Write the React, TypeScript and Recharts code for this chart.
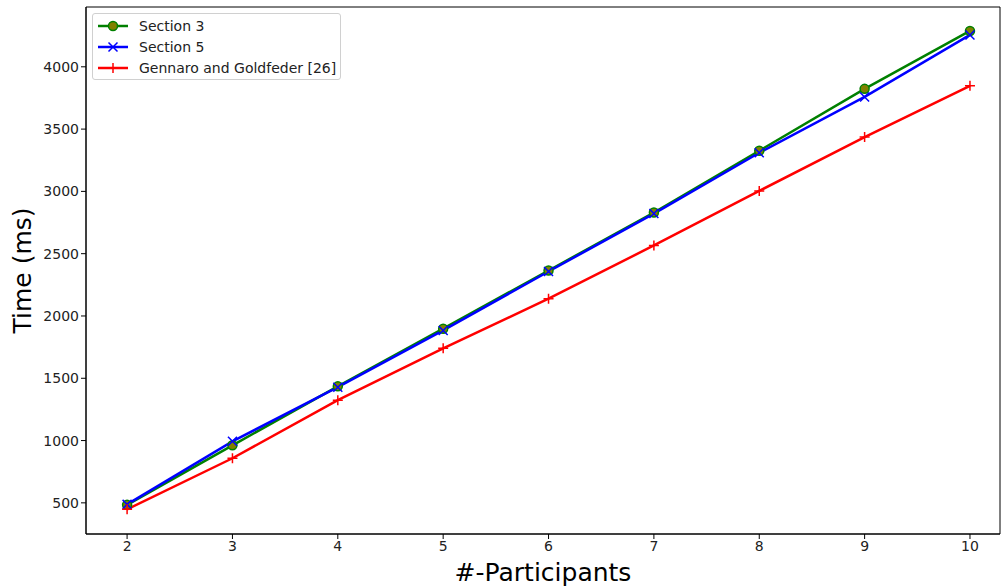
import React from 'react';
import {
  Line,
  LineChart,
  ReferenceArea,
  XAxis,
  YAxis,
} from 'recharts';

const participants = [2, 3, 4, 5, 6, 7, 8, 9, 10];
const section3 = [484, 962, 1435, 1898, 2365, 2830, 3326, 3823, 4288];
const section5 = [488, 994, 1428, 1884, 2357, 2822, 3310, 3758, 4256];
const gennaro = [448, 858, 1324, 1740, 2139, 2566, 3004, 3436, 3847];
const yTicks = [500, 1000, 1500, 2000, 2500, 3000, 3500, 4000];

const FONT = '"DejaVu Sans", sans-serif';
const X_DOMAIN: [number, number] = [1.61, 10.285];
const Y_DOMAIN: [number, number] = [250, 4480];

const data = participants.map((p, i) => ({
  p,
  s3: section3[i],
  s5: section5[i],
  gg: gennaro[i],
}));

function CircleDot(props: any) {
  const { cx, cy } = props;
  if (cx == null || cy == null) return null;
  return <circle cx={cx} cy={cy} r={4.5} fill="#808000" stroke="#008000" strokeWidth={1.5} />;
}

function CrossDot(props: any) {
  const { cx, cy } = props;
  if (cx == null || cy == null) return null;
  const s = 4.5;
  return (
    <path
      d={`M${cx - s},${cy - s}L${cx + s},${cy + s}M${cx - s},${cy + s}L${cx + s},${cy - s}`}
      stroke="#0000ff"
      strokeWidth={1.5}
    />
  );
}

function PlusDot(props: any) {
  const { cx, cy } = props;
  if (cx == null || cy == null) return null;
  const s = 5;
  return (
    <path
      d={`M${cx - s},${cy}L${cx + s},${cy}M${cx},${cy - s}L${cx},${cy + s}`}
      stroke="#ff0000"
      strokeWidth={1.5}
    />
  );
}

const legendItems = [
  { label: 'Section 3', color: '#008000', marker: 'circle' },
  { label: 'Section 5', color: '#0000ff', marker: 'x' },
  { label: 'Gennaro and Goldfeder [26]', color: '#ff0000', marker: 'plus' },
];

function LegendBox() {
  return (
    <div
      style={{
        position: 'absolute',
        left: 92,
        top: 13,
        border: '1px solid #d0d0d0',
        borderRadius: 3,
        background: 'rgba(255,255,255,0.8)',
        padding: '1px 4px 1px 4px',
        fontFamily: FONT,
        fontSize: 14,
        color: '#222',
      }}
    >
      {legendItems.map((it) => (
        <div key={it.label} style={{ display: 'flex', alignItems: 'center', height: 21 }}>
          <svg width={32} height={12} style={{ marginRight: 10 }}>
            <line x1={1} y1={6} x2={31} y2={6} stroke={it.color} strokeWidth={2.5} />
            {it.marker === 'circle' && (
              <circle cx={16} cy={6} r={4.5} fill="#808000" stroke="#008000" strokeWidth={1.5} />
            )}
            {it.marker === 'x' && (
              <path d="M11.5,1.5L20.5,10.5M11.5,10.5L20.5,1.5" stroke={it.color} strokeWidth={1.5} />
            )}
            {it.marker === 'plus' && (
              <path d="M11,6L21,6M16,1L16,11" stroke={it.color} strokeWidth={1.5} />
            )}
          </svg>
          <span>{it.label}</span>
        </div>
      ))}
    </div>
  );
}

export default function App() {
  const tickStyle = { fill: '#222', fontSize: 14, fontFamily: FONT };
  return (
    <div style={{ position: 'absolute', left: 0, top: 0, width: 1002, height: 586, background: '#fff' }}>
      <LineChart
        width={1002}
        height={586}
        data={data}
        margin={{ top: 7, right: 2, bottom: 0, left: 0 }}
      >
        <XAxis
          dataKey="p"
          type="number"
          domain={X_DOMAIN}
          ticks={participants}
          allowDataOverflow
          height={52}
          stroke="#000"
          tickLine={{ stroke: '#000' }}
          tickSize={5}
          tick={tickStyle}
          label={{
            value: '#-Participants',
            position: 'insideBottom',
            offset: 5,
            style: { fontSize: 25, fontFamily: FONT, fill: '#000' },
          }}
        />
        <YAxis
          type="number"
          domain={Y_DOMAIN}
          ticks={yTicks}
          allowDataOverflow
          width={86}
          stroke="#000"
          tickSize={5}
          tick={tickStyle}
          label={{
            value: 'Time (ms)',
            angle: -90,
            position: 'insideLeft',
            offset: 22,
            style: { fontSize: 25, fontFamily: FONT, fill: '#000', textAnchor: 'middle' },
          }}
        />
        <ReferenceArea
          x1={X_DOMAIN[0]}
          x2={X_DOMAIN[1]}
          y1={Y_DOMAIN[0]}
          y2={Y_DOMAIN[1]}
          fill="none"
          stroke="#000"
          strokeWidth={1}
          ifOverflow="visible"
        />
        <Line
          dataKey="s3"
          stroke="#008000"
          strokeWidth={2.5}
          dot={<CircleDot />}
          activeDot={false}
          isAnimationActive={false}
        />
        <Line
          dataKey="s5"
          stroke="#0000ff"
          strokeWidth={2.5}
          dot={<CrossDot />}
          activeDot={false}
          isAnimationActive={false}
        />
        <Line
          dataKey="gg"
          stroke="#ff0000"
          strokeWidth={2.5}
          dot={<PlusDot />}
          activeDot={false}
          isAnimationActive={false}
        />
      </LineChart>
      <LegendBox />
    </div>
  );
}
